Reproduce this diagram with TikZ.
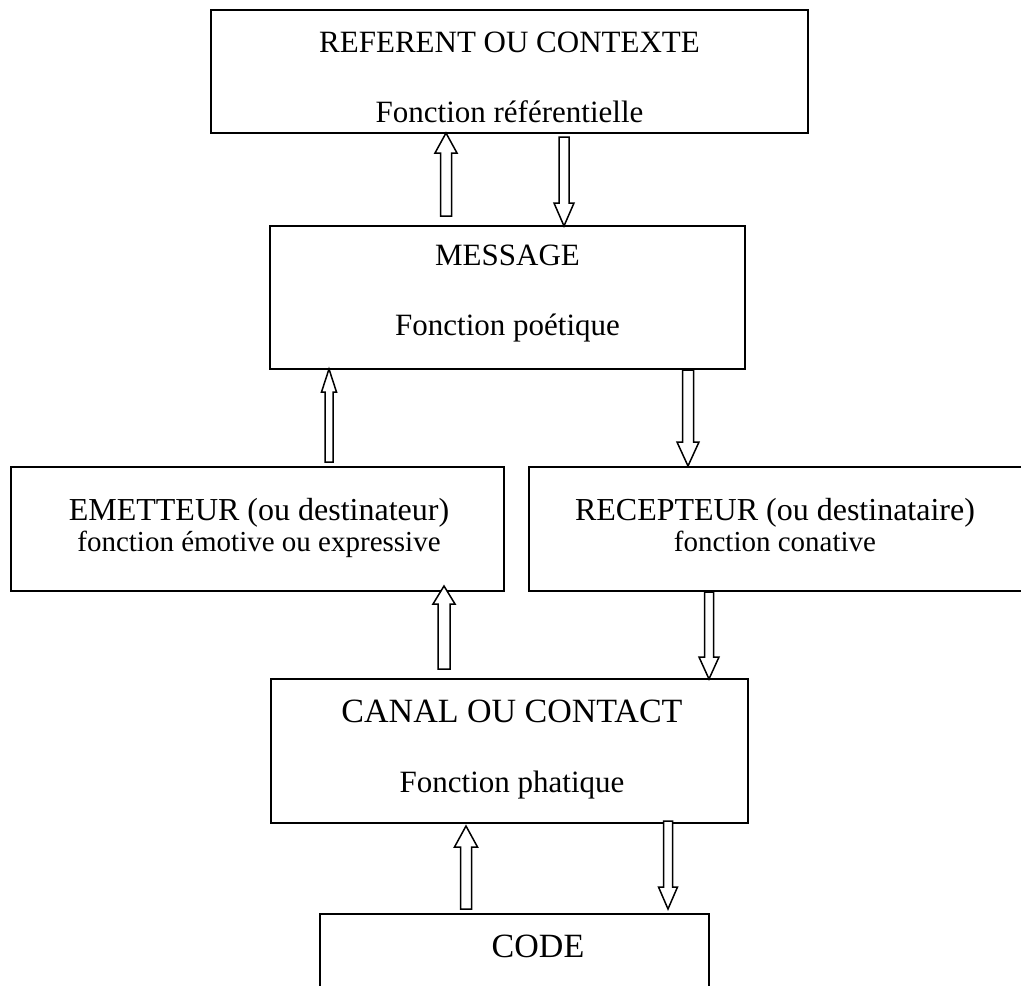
\documentclass[tikz,border=0pt]{standalone}
\usepackage{fontspec}
\setmainfont{Liberation Serif}
\newcommand\szA{\fontsize{31}{36}\selectfont}
\newcommand\szD{\fontsize{32}{37}\selectfont}
\newcommand\szB{\fontsize{29}{34}\selectfont}
\newcommand\szC{\fontsize{34}{40}\selectfont}
% up block arrow: x, tip y, tail y, shaft half width, head half width, head length
\newcommand\uparr[6]{\draw[barrow] (#1-#4,#3) -- (#1-#4,#2+#6) -- (#1-#5,#2+#6) -- (#1,#2) -- (#1+#5,#2+#6) -- (#1+#4,#2+#6) -- (#1+#4,#3) -- cycle;}
% down block arrow: x, tip y, tail y, shaft half width, head half width, head length
\newcommand\downarr[6]{\draw[barrow] (#1-#4,#3) -- (#1-#4,#2-#6) -- (#1-#5,#2-#6) -- (#1,#2) -- (#1+#5,#2-#6) -- (#1+#4,#2-#6) -- (#1+#4,#3) -- cycle;}
\begin{document}
\begin{tikzpicture}[x=1pt,y=-1pt,
  box/.style={draw, line width=1.7pt, anchor=north west, inner sep=0pt, outer sep=0pt},
  barrow/.style={draw, line width=1.5pt, fill=white, line join=miter},
  lbl/.style={anchor=base, inner sep=0pt, outer sep=0pt}]
\useasboundingbox (0,0) rectangle (1021,986);
\clip (0,0) rectangle (1021,986);
% boxes
\node[box, minimum width=597pt, minimum height=123pt] (ref) at (211,10) {};
\node[box, minimum width=475pt, minimum height=143pt] (msg) at (270,226) {};
\node[box, minimum width=493pt, minimum height=124pt] (emet) at (11,467) {};
\node[box, minimum width=500pt, minimum height=124pt] (recep) at (529,467) {};
\node[box, minimum width=477pt, minimum height=144pt] (canal) at (271,679) {};
\node[box, minimum width=389pt, minimum height=120pt] (code) at (320,914) {};
% texts
\node[lbl, font=\szA] (ref1) at (509.5,52) {REFERENT OU CONTEXTE};
\node[lbl, font=\szA] (ref2) at (509.5,122) {Fonction référentielle};
\node[lbl, font=\szA] (msg1) at (507.5,265) {MESSAGE};
\node[lbl, font=\szA] (msg2) at (507.5,335) {Fonction poétique};
\node[lbl, font=\szD] (emet1) at (259,520) {EMETTEUR (ou destinateur)};
\node[lbl, font=\szB] (emet2) at (259,551) {fonction émotive ou expressive};
\node[lbl, font=\szD] (recep1) at (775,520) {RECEPTEUR (ou destinataire)};
\node[lbl, font=\szB] (recep2) at (775,551) {fonction conative};
\node[lbl, font=\szC] (canal1) at (512,722) {CANAL OU CONTACT};
\node[lbl, font=\szA] (canal2) at (512,792) {Fonction phatique};
\node[lbl, font=\szC] (code1) at (538,957) {CODE};
% block arrows
\uparr{446}{133}{216}{5.5}{11}{20}
\downarr{564}{226}{137}{5}{10}{23}
\uparr{329}{369}{462}{4}{7.5}{23}
\downarr{688}{466}{370}{5.5}{11}{24}
\uparr{444}{586}{669}{6}{11}{18}
\downarr{709}{679}{592}{4.5}{10}{22}
\uparr{466}{826}{909}{5.5}{11.5}{21}
\downarr{668}{909}{821}{4.5}{9.5}{22}
\end{tikzpicture}
\end{document}
